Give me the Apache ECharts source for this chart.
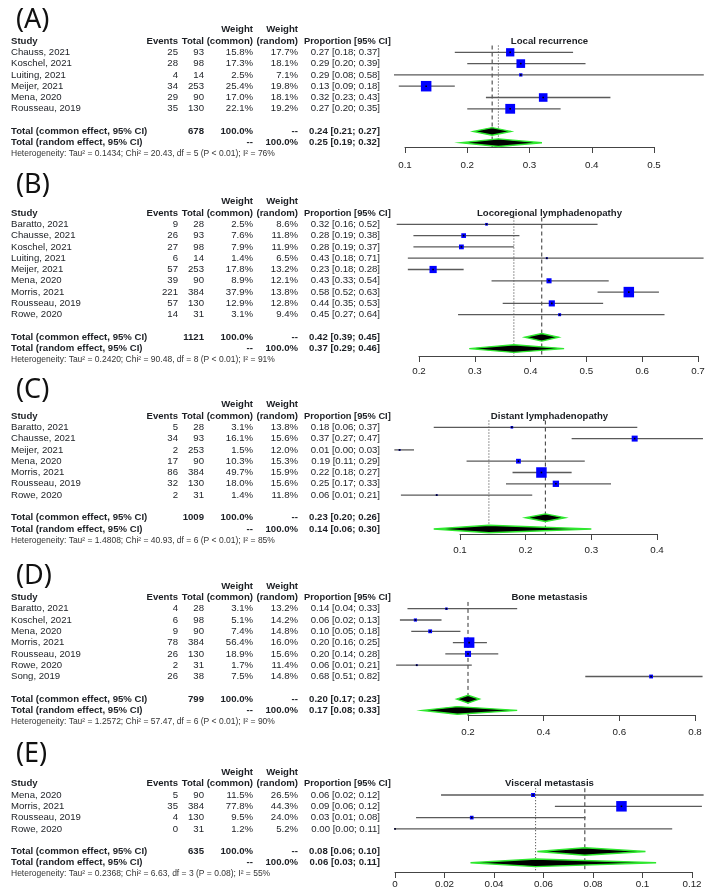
<!DOCTYPE html>
<html>
<head>
<meta charset="utf-8">
<script src="https://cdn.jsdelivr.net/npm/echarts@6/dist/echarts.min.js"></script>
<style>
  html, body { margin: 0; padding: 0; background: #fff; }
  #chart { width: 713px; height: 896px; }
</style>
</head>
<body>
<div id="chart"></div>
<script>
// (A) local recurrence
const titleA = "Local recurrence";
const studyA = ["Chauss, 2021", "Koschel, 2021", "Luiting, 2021", "Meijer, 2021", "Mena, 2020", "Rousseau, 2019"];
const eventsA = [25, 28, 4, 34, 29, 35];
const totalA = [93, 98, 14, 253, 90, 130];
const wCommonA = [15.8, 17.3, 2.5, 25.4, 17.0, 22.1];
const wRandomA = [17.7, 18.1, 7.1, 19.8, 18.1, 19.2];
const propA = [0.269, 0.286, 0.286, 0.134, 0.322, 0.269];
const lowA = [0.18, 0.20, 0.08, 0.09, 0.23, 0.20];
const highA = [0.37, 0.39, 0.58, 0.18, 0.43, 0.35];
const nA = 678;
const commonA = [0.24, 0.21, 0.27];
const randomA = [0.25, 0.19, 0.32];
const hetA = "Heterogeneity: Tau\u00b2 = 0.1434; Chi\u00b2 = 20.43, df = 5 (P < 0.01); I\u00b2 = 76%";
const ticksA = [0.1, 0.2, 0.3, 0.4, 0.5];

// (B) locoregional lymphadenopathy
const titleB = "Locoregional lymphadenopathy";
const studyB = ["Baratto, 2021", "Chausse, 2021", "Koschel, 2021", "Luiting, 2021", "Meijer, 2021", "Mena, 2020", "Morris, 2021", "Rousseau, 2019", "Rowe, 2020"];
const eventsB = [9, 26, 27, 6, 57, 39, 221, 57, 14];
const totalB = [28, 93, 98, 14, 253, 90, 384, 130, 31];
const wCommonB = [2.5, 7.6, 7.9, 1.4, 17.8, 8.9, 37.9, 12.9, 3.1];
const wRandomB = [8.6, 11.8, 11.9, 6.5, 13.2, 12.1, 13.8, 12.8, 9.4];
const propB = [0.321, 0.280, 0.276, 0.429, 0.2253, 0.433, 0.576, 0.438, 0.452];
const lowB = [0.16, 0.19, 0.19, 0.18, 0.18, 0.33, 0.52, 0.35, 0.27];
const highB = [0.52, 0.38, 0.37, 0.71, 0.28, 0.54, 0.63, 0.53, 0.64];
const nB = 1121;
const commonB = [0.42, 0.39, 0.45];
const randomB = [0.37, 0.29, 0.46];
const hetB = "Heterogeneity: Tau\u00b2 = 0.2420; Chi\u00b2 = 90.48, df = 8 (P < 0.01); I\u00b2 = 91%";
const ticksB = [0.2, 0.3, 0.4, 0.5, 0.6, 0.7];

// (C) distant lymphadenopathy
const titleC = "Distant lymphadenopathy";
const studyC = ["Baratto, 2021", "Chausse, 2021", "Meijer, 2021", "Mena, 2020", "Morris, 2021", "Rousseau, 2019", "Rowe, 2020"];
const eventsC = [5, 34, 2, 17, 86, 32, 2];
const totalC = [28, 93, 253, 90, 384, 130, 31];
const wCommonC = [3.1, 16.1, 1.5, 10.3, 49.7, 18.0, 1.4];
const wRandomC = [13.8, 15.6, 12.0, 15.3, 15.9, 15.6, 11.8];
const propC = [0.179, 0.366, 0.008, 0.189, 0.224, 0.246, 0.0645];
const lowC = [0.06, 0.27, 0.00, 0.11, 0.18, 0.17, 0.01];
const highC = [0.37, 0.47, 0.03, 0.29, 0.27, 0.33, 0.21];
const nC = 1009;
const commonC = [0.23, 0.20, 0.26];
const randomC = [0.144, 0.06, 0.30];
const hetC = "Heterogeneity: Tau\u00b2 = 1.4808; Chi\u00b2 = 40.93, df = 6 (P < 0.01); I\u00b2 = 85%";
const ticksC = [0.1, 0.2, 0.3, 0.4];

// (D) bone metastasis
const titleD = "Bone metastasis";
const studyD = ["Baratto, 2021", "Koschel, 2021", "Mena, 2020", "Morris, 2021", "Rousseau, 2019", "Rowe, 2020", "Song, 2019"];
const eventsD = [4, 6, 9, 78, 26, 2, 26];
const totalD = [28, 98, 90, 384, 130, 31, 38];
const wCommonD = [3.1, 5.1, 7.4, 56.4, 18.9, 1.7, 7.5];
const wRandomD = [13.2, 14.2, 14.8, 16.0, 15.6, 11.4, 14.8];
const propD = [0.143, 0.061, 0.100, 0.203, 0.200, 0.0645, 0.684];
const lowD = [0.04, 0.02, 0.05, 0.16, 0.14, 0.01, 0.51];
const highD = [0.33, 0.13, 0.18, 0.25, 0.28, 0.21, 0.82];
const nD = 799;
const commonD = [0.20, 0.17, 0.23];
const randomD = [0.172, 0.08, 0.33];
const hetD = "Heterogeneity: Tau\u00b2 = 1.2572; Chi\u00b2 = 57.47, df = 6 (P < 0.01); I\u00b2 = 90%";
const ticksD = [0.2, 0.4, 0.6, 0.8];

// (E) visceral metastasis
const titleE = "Visceral metastasis";
const studyE = ["Mena, 2020", "Morris, 2021", "Rousseau, 2019", "Rowe, 2020"];
const eventsE = [5, 35, 4, 0];
const totalE = [90, 384, 130, 31];
const wCommonE = [11.5, 77.8, 9.5, 1.2];
const wRandomE = [26.5, 44.3, 24.0, 5.2];
const propE = [0.0558, 0.0915, 0.031, 0.0];
const lowE = [0.0186, 0.0646, 0.0085, 0.0];
const highE = [0.1247, 0.124, 0.077, 0.112];
const nE = 635;
const commonE = [0.0767, 0.0575, 0.1012];
const randomE = [0.0568, 0.0305, 0.1055];
const hetE = "Heterogeneity: Tau\u00b2 = 0.2368; Chi\u00b2 = 6.63, df = 3 (P = 0.08); I\u00b2 = 55%";
const ticksE = [0, 0.02, 0.04, 0.06, 0.08, 0.1, 0.12];

const panels = [
  { label: "(A)", title: titleA, study: studyA, events: eventsA, total: totalA, wc: wCommonA, wr: wRandomA, est: propA, lo: lowA, hi: highA, n: nA, common: commonA, random: randomA, het: hetA, ticks: ticksA },
  { label: "(B)", title: titleB, study: studyB, events: eventsB, total: totalB, wc: wCommonB, wr: wRandomB, est: propB, lo: lowB, hi: highB, n: nB, common: commonB, random: randomB, het: hetB, ticks: ticksB },
  { label: "(C)", title: titleC, study: studyC, events: eventsC, total: totalC, wc: wCommonC, wr: wRandomC, est: propC, lo: lowC, hi: highC, n: nC, common: commonC, random: randomC, het: hetC, ticks: ticksC },
  { label: "(D)", title: titleD, study: studyD, events: eventsD, total: totalD, wc: wCommonD, wr: wRandomD, est: propD, lo: lowD, hi: highD, n: nD, common: commonD, random: randomD, het: hetD, ticks: ticksD },
  { label: "(E)", title: titleE, study: studyE, events: eventsE, total: totalE, wc: wCommonE, wr: wRandomE, est: propE, lo: lowE, hi: highE, n: nE, common: commonE, random: randomE, het: hetE, ticks: ticksE },
];

// page layout (pixels)
const DY = 11.3;
const SQ_MAX = 10.5;
const PLOT_L = 394, PLOT_R = 705;
const layout = [
  { y0: 52.3, axisY: 147, x0: 405, x1: 654, labelY: 20, margin: 13 },
  { y0: 224.3, axisY: 356, x0: 419, x1: 698, labelY: 185, margin: 10 },
  { y0: 427.3, axisY: 534, x0: 460, x1: 657, labelY: 390, margin: 11 },
  { y0: 608.7, axisY: 715, x0: 468, x1: 695, labelY: 576, margin: 12 },
  { y0: 795, axisY: 872, x0: 395, x1: 692, labelY: 754, margin: 7 },
];
const COL = { study: 11, events: 178, total: 204, wc: 253, wr: 298, ci: 380, ciHead: 304, title: 549.5, label: 16 };
const FONT = '"Liberation Sans", Arial, sans-serif';
const TXT = "#1c1f24";

function fmtCI(e, l, h) {
  return e.toFixed(2) + " [" + l.toFixed(2) + "; " + h.toFixed(2) + "]";
}

function buildCells(p, L) {
  const cells = [];
  const add = (x, row, text, align, opt) => cells.push(Object.assign({ x, row, text, align, size: 9.6, weight: "normal" }, opt || {}));
  const B = { weight: "bold" };
  const k = p.study.length;
  add(COL.label, (L.labelY - L.y0) / DY, p.label, "left", { size: 27, family: '"Noto Sans", sans-serif', color: "#111" });
  add(COL.wc, -2, "Weight", "right", B);
  add(COL.wr, -2, "Weight", "right", B);
  add(COL.study, -1, "Study", "left", B);
  add(COL.events, -1, "Events", "right", B);
  add(COL.total, -1, "Total", "right", B);
  add(COL.wc, -1, "(common)", "right", B);
  add(COL.wr, -1, "(random)", "right", B);
  add(COL.ciHead, -1, "Proportion [95% CI]", "left", Object.assign({ size: 9.3 }, B));
  add(COL.title, -1, p.title, "center", B);
  p.study.forEach((s, r) => {
    add(COL.study, r, s, "left");
    add(COL.events, r, String(p.events[r]), "right");
    add(COL.total, r, String(p.total[r]), "right");
    add(COL.wc, r, p.wc[r].toFixed(1) + "%", "right");
    add(COL.wr, r, p.wr[r].toFixed(1) + "%", "right");
    add(COL.ci, r, fmtCI(p.est[r], p.lo[r], p.hi[r]), "right");
  });
  add(COL.study, k + 1, "Total (common effect, 95% CI)", "left", B);
  add(COL.total, k + 1, String(p.n), "right", B);
  add(COL.wc, k + 1, "100.0%", "right", B);
  add(COL.wr, k + 1, "--", "right", B);
  add(COL.ci, k + 1, fmtCI(p.common[0], p.common[1], p.common[2]), "right", B);
  add(COL.study, k + 2, "Total (random effect, 95% CI)", "left", B);
  add(COL.wc, k + 2, "--", "right", B);
  add(COL.wr, k + 2, "100.0%", "right", B);
  add(COL.ci, k + 2, fmtCI(p.random[0], p.random[1], p.random[2]), "right", B);
  add(COL.study, k + 3, p.het, "left", { size: 8.5, color: "#333" });
  return cells;
}

const grids = [], xAxes = [], yAxes = [], series = [];

panels.forEach((p, i) => {
  const L = layout[i];
  const k = p.study.length;
  const top = L.y0 - 0.6 * DY;
  const height = L.axisY - top;
  const yMax = (L.axisY - L.y0) / DY;
  const gT = grids.length, gF = gT + 1;
  grids.push({ left: 0, top: top, width: 713, height: height });
  grids.push({ left: L.x0, top: top, width: L.x1 - L.x0, height: height });

  xAxes.push({ gridIndex: gT, type: "value", min: 0, max: 713, show: false });
  xAxes.push({
    gridIndex: gF, type: "value",
    min: p.ticks[0], max: p.ticks[p.ticks.length - 1],
    interval: +(p.ticks[1] - p.ticks[0]).toFixed(6),
    axisLine: { onZero: false, lineStyle: { color: "#444", width: 1 } },
    axisTick: { show: true, length: 6, customValues: p.ticks, lineStyle: { color: "#444" } },
    axisLabel: { margin: L.margin, customValues: p.ticks, color: "#222", fontSize: 9.8, fontFamily: FONT, formatter: v => String(v) },
    splitLine: { show: false },
  });
  const yAx = { type: "value", inverse: true, min: -0.6, max: yMax, show: false };
  yAxes.push(Object.assign({ gridIndex: gT }, yAx));
  yAxes.push(Object.assign({ gridIndex: gF }, yAx));

  // table text
  const cells = buildCells(p, L);
  series.push({
    type: "custom", xAxisIndex: gT, yAxisIndex: gT, silent: true,
    encode: { x: 0, y: 1 },
    data: cells.map(c => [c.x, c.row]),
    renderItem(params, api) {
      const c = cells[params.dataIndex];
      const pt = api.coord([api.value(0), api.value(1)]);
      return {
        type: "text", x: pt[0], y: pt[1],
        style: {
          text: c.text, fill: c.color || TXT,
          fontSize: c.size, fontWeight: c.weight, fontFamily: c.family || FONT,
          align: c.align, verticalAlign: "middle",
        },
      };
    },
  });

  // reference lines: common (dashed) and random (dotted)
  series.push({
    type: "line", xAxisIndex: gF, yAxisIndex: gF, silent: true, symbol: "none", z: 1,
    data: [[p.common[0], -0.6], [p.common[0], yMax]],
    lineStyle: { color: "#333", width: 1, type: [4, 3] },
  });
  series.push({
    type: "line", xAxisIndex: gF, yAxisIndex: gF, silent: true, symbol: "none", z: 1,
    data: [[p.random[0], -0.6], [p.random[0], yMax]],
    lineStyle: { color: "#333", width: 1, type: [1, 2] },
  });

  // study CIs and weighted squares
  const wMax = Math.max.apply(null, p.wc);
  series.push({
    type: "custom", xAxisIndex: gF, yAxisIndex: gF, silent: true, z: 3,
    encode: { x: 0, y: 1 },
    data: p.study.map((s, r) => [p.est[r], r, p.lo[r], p.hi[r], p.wc[r]]),
    renderItem(params, api) {
      const row = api.value(1);
      const c = api.coord([api.value(0), row]);
      const a = api.coord([api.value(2), row]);
      const b = api.coord([api.value(3), row]);
      const x1 = Math.max(PLOT_L, a[0]), x2 = Math.min(PLOT_R, b[0]);
      const s = SQ_MAX * Math.sqrt(api.value(4) / wMax);
      return {
        type: "group",
        children: [
          { type: "line", shape: { x1: x1, y1: c[1], x2: x2, y2: c[1] }, style: { stroke: "#5a5a5a", lineWidth: 1.3 } },
          { type: "rect", shape: { x: c[0] - s / 2, y: c[1] - s / 2, width: s, height: s }, style: { fill: "#0000ff" } },
          { type: "rect", shape: { x: c[0] - 0.8, y: c[1] - 0.8, width: 1.6, height: 1.6 }, style: { fill: "#000" } },
        ],
      };
    },
  });

  // pooled diamonds
  series.push({
    type: "custom", xAxisIndex: gF, yAxisIndex: gF, silent: true, z: 4,
    encode: { x: 0, y: 1 },
    data: [
      [p.common[0], k + 1, p.common[1], p.common[2]],
      [p.random[0], k + 2, p.random[1], p.random[2]],
    ],
    renderItem(params, api) {
      const row = api.value(1);
      const c = api.coord([api.value(0), row]);
      const a = api.coord([api.value(2), row]);
      const b = api.coord([api.value(3), row]);
      const h = 3.8;
      return {
        type: "polygon",
        shape: { points: [[a[0], c[1]], [c[0], c[1] - h], [b[0], c[1]], [c[0], c[1] + h]] },
        style: { fill: "#000", stroke: "#2ee82e", lineWidth: 1.4 },
      };
    },
  });
});

const chart = echarts.init(document.getElementById("chart"));
chart.setOption({
  animation: false,
  backgroundColor: "#fff",
  grid: grids,
  xAxis: xAxes,
  yAxis: yAxes,
  series: series,
});
</script>
</body>
</html>
